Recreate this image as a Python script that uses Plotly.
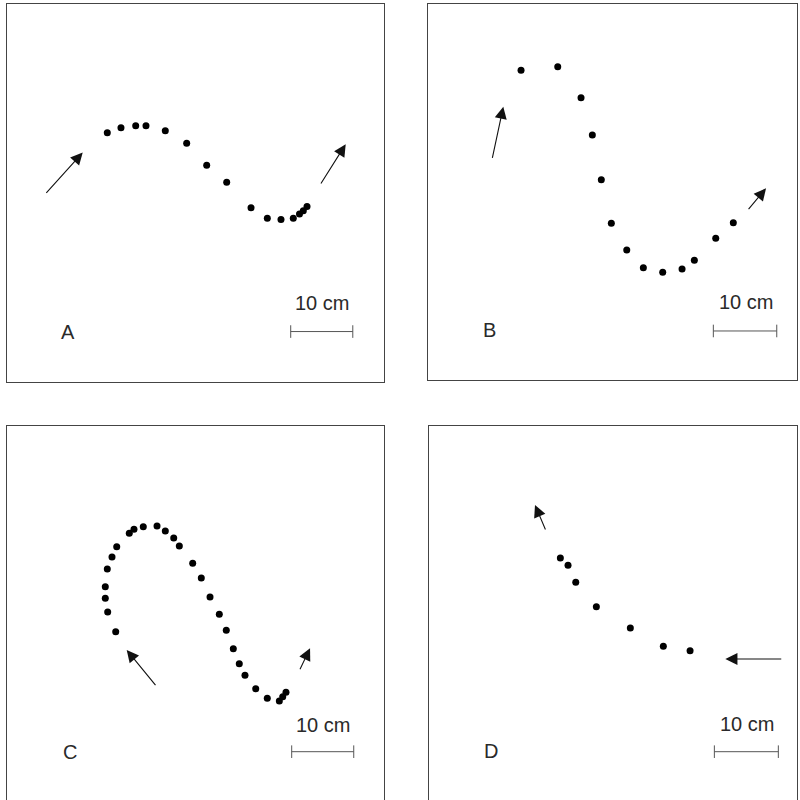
import plotly.graph_objects as go

# Dot positions in each panel (cm, origin at lower-left corner of panel box)
a_x = [15.95, 18.13, 20.48, 22.12, 25.2, 28.61, 31.8, 34.99, 38.87, 41.47, 43.65, 45.61, 46.6, 47.21, 47.8]
a_y = [39.52, 40.32, 40.64, 40.64, 39.84, 37.88, 34.37, 31.66, 27.62, 25.96, 25.76, 25.96, 26.63, 27.15, 27.83]

b_x = [15.09, 21.06, 24.85, 26.69, 28.15, 29.78, 32.29, 34.99, 38.14, 41.29, 43.29, 46.77, 49.63]
b_y = [49.43, 50.01, 45.07, 39.12, 32.0, 25.05, 20.8, 17.98, 17.24, 17.77, 19.16, 22.66, 25.15]

c_x = [17.27, 15.99, 15.61, 15.61, 15.93, 16.68, 17.43, 19.43, 20.18, 21.66, 23.85, 25.17, 26.51, 27.4,
       29.53, 30.9, 32.29, 33.77, 34.88, 36.0, 36.95, 37.86, 39.57, 41.41, 43.33, 43.87, 44.39]
c_y = [27.04, 30.2, 32.4, 34.27, 37.11, 39.04, 40.69, 42.84, 43.49, 43.9, 44.02, 43.21, 42.09, 40.8,
       38.02, 35.66, 32.61, 29.83, 27.26, 24.31, 21.9, 20.03, 17.88, 16.34, 15.9, 16.59, 17.3]

d_x = [21.41, 22.66, 23.92, 27.28, 32.82, 38.2, 42.56]
d_y = [38.83, 37.65, 34.93, 31.01, 27.6, 24.66, 23.95]

# Arrows: (start_x, start_y, tip_x, tip_y)
a_arrows = [(6.01, 29.74, 12.03, 36.4), (49.87, 31.23, 53.97, 37.72)]
b_arrows = [(10.37, 35.25, 12.2, 43.63), (51.91, 27.06, 54.96, 30.63)]
c_arrows = [(23.8, 18.2, 19.02, 24.1), (46.51, 20.77, 48.22, 24.37)]
d_arrows = [(19.08, 43.16, 17.28, 47.33), (57.67, 22.62, 48.31, 22.62)]

# Scale bars (x0, x1, y), scale label position, panel letter position
scale_bars = [(45.2, 55.1, 7.94), (46.38, 56.7, 7.89), (45.3, 55.18, 7.76), (46.52, 56.95, 7.75)]
scale_text_pos = [(50.2, 12.5), (51.7, 12.56), (50.33, 12.05), (51.9, 12.19)]
letters = ["A", "B", "C", "D"]
letter_pos = [(9.68, 7.9), (9.93, 8.05), (9.99, 7.76), (10.06, 7.91)]
scale_label = "10 cm"

# Panel box domains (paper fractions)
x_domains = [[0.0091, 0.4794], [0.5354, 0.9963], [0.0091, 0.4800], [0.5363, 0.9963]]
y_domains = [[0.5231, 0.9950], [0.5244, 0.9950], [0.0, 0.4669], [0.0, 0.4675]]

panels = [(a_x, a_y, a_arrows), (b_x, b_y, b_arrows), (c_x, c_y, c_arrows), (d_x, d_y, d_arrows)]

fig = go.Figure()
annotations = []
font_family = "Liberation Sans, Arial, sans-serif"
for i, (px, py, arrows) in enumerate(panels):
    n = "" if i == 0 else str(i + 1)
    xr, yr = "x" + n, "y" + n
    fig.add_trace(go.Scatter(x=px, y=py, mode="markers", xaxis=xr, yaxis=yr,
                             marker=dict(color="black", size=7), showlegend=False, hoverinfo="skip"))
    x0, x1, yb = scale_bars[i]
    fig.add_trace(go.Scatter(x=[x0, x1], y=[yb, yb], mode="lines+markers", xaxis=xr, yaxis=yr,
                             line=dict(color="#555555", width=1),
                             marker=dict(symbol="line-ns-open", size=9, color="#555555",
                                         line=dict(width=1, color="#555555")),
                             showlegend=False, hoverinfo="skip"))
    for (sx, sy, tx, ty) in arrows:
        annotations.append(dict(x=tx, y=ty, ax=sx, ay=sy, xref=xr, yref=yr, axref=xr, ayref=yr,
                                showarrow=True, arrowhead=2, arrowsize=2.2, arrowwidth=1.1,
                                arrowcolor="#111111", text=""))
    tx_, ty_ = scale_text_pos[i]
    annotations.append(dict(x=tx_, y=ty_, xref=xr, yref=yr, text=scale_label, showarrow=False,
                            font=dict(family=font_family, size=20, color="#2a2a2a")))
    lx, ly = letter_pos[i]
    annotations.append(dict(x=lx, y=ly, xref=xr, yref=yr, text=letters[i], showarrow=False,
                            font=dict(family=font_family, size=20, color="#2a2a2a")))

layout = dict(width=800, height=800, margin=dict(l=0, r=0, t=0, b=0),
              paper_bgcolor="white", plot_bgcolor="white", annotations=annotations)
for i in range(4):
    n = "" if i == 0 else str(i + 1)
    common = dict(range=[0, 60], showgrid=False, zeroline=False, showticklabels=False, ticks="",
                  showline=True, mirror=True, linecolor="#444444", linewidth=1, fixedrange=True)
    layout["xaxis" + n] = dict(domain=x_domains[i], anchor="y" + n, **common)
    layout["yaxis" + n] = dict(domain=y_domains[i], anchor="x" + n, **common)
fig.update_layout(**layout)
fig.write_html("out.html", config={"displayModeBar": False},
               post_script="document.body.style.margin='0';document.body.style.overflow='hidden';")
